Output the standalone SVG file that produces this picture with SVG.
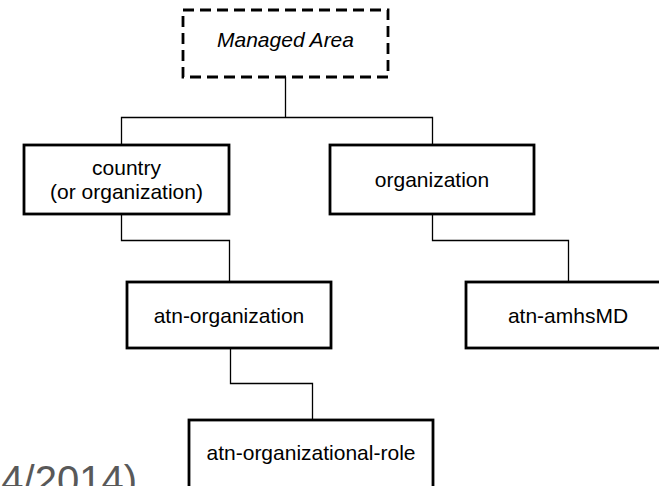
<svg xmlns="http://www.w3.org/2000/svg" width="659" height="486" viewBox="0 0 659 486">
<style>
.box{fill:#fff;stroke:#000;stroke-width:2.8}
.dash{fill:#fff;stroke:#000;stroke-width:2.8;stroke-dasharray:11 6}
.lbl{font-family:"Liberation Sans",Arial,sans-serif;font-size:21px;fill:#000;text-anchor:middle}
.conn{fill:none;stroke:#000;stroke-width:1.3}
</style>
<rect width="659" height="486" fill="#fff"/>
<text x="137" y="494" font-family="Liberation Sans,Arial,sans-serif" font-size="40" fill="#595959" text-anchor="end">4/2014)</text>
<g id="connectors">
<path class="conn" d="M285.5 77V117.5M121.5 145V117.5H432.5V145"/>
<path class="conn" d="M121.5 214V240.5H229.5V282"/>
<path class="conn" d="M432.5 214V240.5H568.5V282"/>
<path class="conn" d="M230.5 348V383.5H312.5V420"/>
</g>
<g id="managed-area">
<rect class="dash" x="183" y="10" width="205" height="67"/>
<text class="lbl" x="285.5" y="47" font-style="italic">Managed Area</text>
</g>
<g id="country">
<rect class="box" x="24" y="145" width="205" height="69"/>
<text class="lbl" x="126.5" y="175">country</text>
<text class="lbl" x="126.5" y="199">(or organization)</text>
</g>
<g id="organization">
<rect class="box" x="330" y="145" width="204" height="69"/>
<text class="lbl" x="432" y="187">organization</text>
</g>
<g id="atn-organization">
<rect class="box" x="127" y="282" width="204" height="66"/>
<text class="lbl" x="229" y="323">atn-organization</text>
</g>
<g id="atn-amhsMD">
<rect class="box" x="466" y="282" width="210" height="66"/>
<text class="lbl" x="568" y="323">atn-amhsMD</text>
</g>
<g id="atn-organizational-role">
<rect class="box" x="189" y="420" width="244" height="80"/>
<text class="lbl" x="311" y="460">atn-organizational-role</text>
</g>
</svg>
